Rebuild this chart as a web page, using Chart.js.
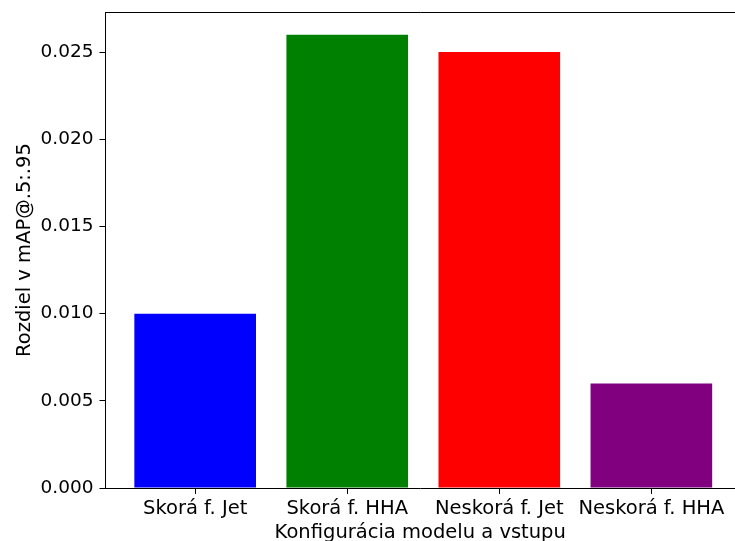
<!DOCTYPE html>
<html>
<head>
<meta charset="utf-8">
<script src="https://cdn.jsdelivr.net/npm/chart.js@4"></script>
<style>
  html, body { margin: 0; padding: 0; background: #fff; }
  #wrap { width: 735px; height: 541px; }
</style>
</head>
<body>
<div id="wrap"><canvas id="chart"></canvas></div>
<script>
// data
const categories = ['Skorá f. Jet', 'Skorá f. HHA', 'Neskorá f. Jet', 'Neskorá f. HHA'];
const diffValues = [0.010, 0.026, 0.025, 0.006];
const barColors = ['#0000ff', '#008000', '#ff0000', '#800080'];
const yTicks = [0, 0.005, 0.010, 0.015, 0.020, 0.025];

const LABEL_FONT = { family: 'DejaVu Sans', size: 19.5, lineHeight: 1 };
const NUM_FONT = { family: 'DejaVu Sans', size: 18.5, lineHeight: 1 };

// matplotlib-like top frame line
const frameTop = {
  id: 'frameTop',
  afterDraw(chart) {
    const { ctx, chartArea } = chart;
    ctx.save();
    ctx.strokeStyle = '#000';
    ctx.lineWidth = 1;
    ctx.beginPath();
    ctx.moveTo(chartArea.left, chartArea.top + 0.5);
    ctx.lineTo(chartArea.right, chartArea.top + 0.5);
    ctx.stroke();
    ctx.restore();
  }
};

new Chart(document.getElementById('chart'), {
  type: 'bar',
  data: {
    datasets: [{
      data: diffValues.map((v, i) => ({ x: i, y: v })),
      backgroundColor: barColors,
      borderWidth: 0,
      categoryPercentage: 1,
      barPercentage: 0.8
    }]
  },
  options: {
    responsive: true,
    maintainAspectRatio: false,
    animation: false,
    layout: { padding: { top: 12, left: 15, right: 0, bottom: -2 } },
    plugins: { legend: { display: false }, tooltip: { enabled: false } },
    scales: {
      x: {
        type: 'linear',
        offset: false,
        min: -0.59,
        max: 3.55,
        afterBuildTicks: (axis) => { axis.ticks = categories.map((c, i) => ({ value: i })); },
        ticks: {
          color: '#000',
          font: LABEL_FONT,
          padding: 5,
          maxRotation: 0,
          autoSkip: false,
          callback: (v) => categories[v]
        },
        grid: { drawOnChartArea: false, offset: false, color: '#000', tickLength: 6 },
        border: { color: '#000' },
        title: {
          display: true,
          text: 'Konfigurácia modelu a vstupu',
          color: '#000',
          font: LABEL_FONT,
          padding: { top: 0, bottom: 0 }
        }
      },
      y: {
        min: 0,
        max: 0.0273,
        afterBuildTicks: (axis) => { axis.ticks = yTicks.map(v => ({ value: v })); },
        afterFit: (axis) => { axis.paddingTop = 0; },
        ticks: {
          color: '#000',
          font: NUM_FONT,
          padding: 6,
          callback: (v) => v.toFixed(3)
        },
        grid: { drawOnChartArea: false, color: '#000', tickLength: 6 },
        border: { color: '#000' },
        title: {
          display: true,
          text: 'Rozdiel v mAP@.5:.95',
          color: '#000',
          font: LABEL_FONT,
          padding: { top: 0, bottom: 0 }
        }
      }
    }
  },
  plugins: [frameTop]
});
</script>
</body>
</html>
